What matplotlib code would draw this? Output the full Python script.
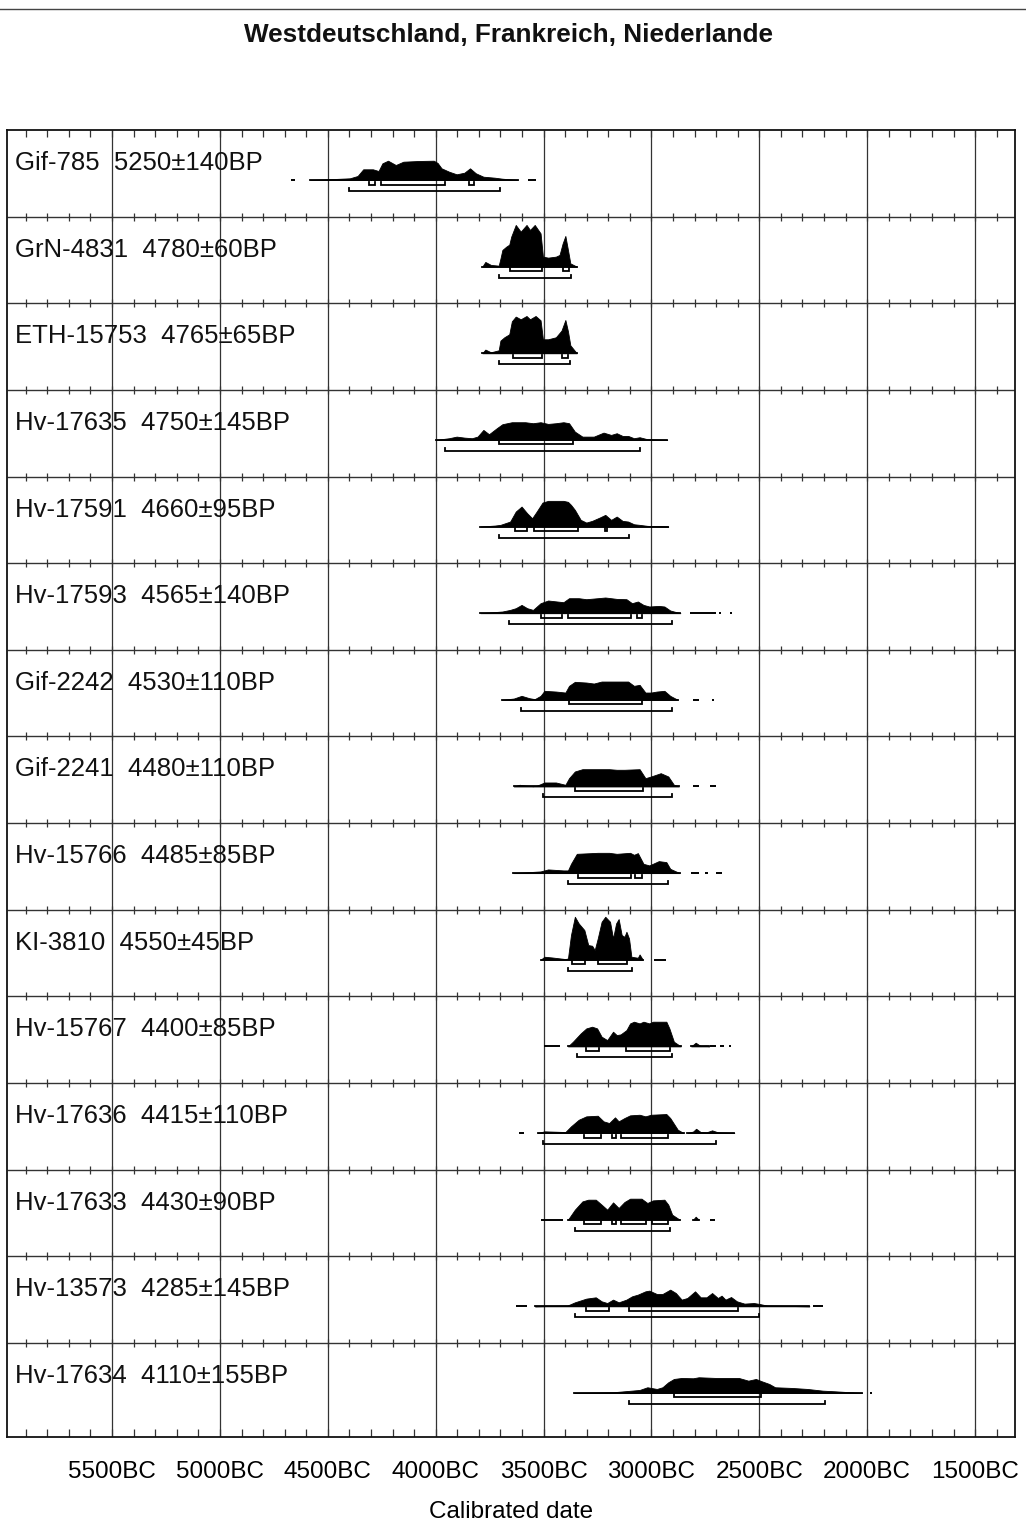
import matplotlib
matplotlib.use("Agg")
import matplotlib.pyplot as plt
import matplotlib.transforms as mtransforms

plt.rcParams['font.family'] = ['Liberation Sans', 'DejaVu Sans']

TITLE = "Westdeutschland, Frankreich, Niederlande"
XLABEL = "Calibrated date"
TICK_YEARS = [5500, 5000, 4500, 4000, 3500, 3000, 2500, 2000, 1500]
TICK_LABELS = ["5500BC", "5000BC", "4500BC", "4000BC", "3500BC",
               "3000BC", "2500BC", "2000BC", "1500BC"]

LABELS = [
    "Gif-785  5250±140BP", "GrN-4831  4780±60BP", "ETH-15753  4765±65BP",
    "Hv-17635  4750±145BP", "Hv-17591  4660±95BP", "Hv-17593  4565±140BP",
    "Gif-2242  4530±110BP", "Gif-2241  4480±110BP", "Hv-15766  4485±85BP",
    "KI-3810  4550±45BP", "Hv-15767  4400±85BP", "Hv-17636  4415±110BP",
    "Hv-17633  4430±90BP", "Hv-13573  4285±145BP", "Hv-17634  4110±155BP",
]

# ---- probability curves: years BC and relative heights ----
r1_years = [4583, 4468, 4398, 4362, 4336, 4291, 4265, 4247, 4221, 4185, 4150, 4080, 4009, 3991, 3973, 3938, 3903, 3867, 3841, 3814, 3779, 3726, 3691, 3620]
r1_h = [0, 1, 1.7, 4, 10.7, 10.7, 9, 16.7, 19.3, 15, 18.3, 19, 19.3, 17, 11.7, 8.3, 5.7, 7.3, 11.7, 6.7, 3.3, 2.3, 1.3, 0]

r2_years = [3784, 3770, 3744, 3708, 3700, 3691, 3673, 3659, 3650, 3629, 3606, 3579, 3563, 3541, 3514, 3503, 3479, 3443, 3426, 3412, 3399, 3387, 3376, 3346]
r2_h = [0, 4.7, 1.7, 1, 8, 16.7, 20, 22, 30, 41.7, 35, 41.7, 36.7, 41.7, 33.3, 10, 9, 10, 11.7, 23, 30.7, 16.7, 3.3, 0]

r3_years = [3784, 3770, 3744, 3708, 3700, 3682, 3659, 3647, 3629, 3606, 3579, 3563, 3537, 3514, 3503, 3479, 3443, 3417, 3399, 3387, 3376, 3346]
r3_h = [0, 3.7, 1, 3, 12.7, 16, 19, 32, 36.7, 34, 37.3, 34, 37.3, 33, 14, 14, 16, 22.7, 33.3, 22, 8, 0]

r4_years = [4000, 3938, 3903, 3867, 3832, 3806, 3779, 3753, 3717, 3691, 3647, 3585, 3549, 3514, 3479, 3443, 3408, 3382, 3355, 3320, 3267, 3222, 3187, 3161, 3134, 3108, 3081, 3055, 3019, 2927]
r4_h = [0, 1.7, 3.3, 2.3, 1.7, 3.3, 10, 5.7, 11.7, 15.7, 17.7, 17.7, 16.7, 17.7, 16, 16.7, 17.7, 16.7, 8.3, 3.3, 3.3, 7.3, 5, 6.7, 4, 4, 1.7, 2.7, 0.7, 0]

r5_years = [3793, 3726, 3700, 3655, 3629, 3602, 3576, 3553, 3532, 3505, 3479, 3408, 3387, 3373, 3355, 3328, 3302, 3275, 3240, 3214, 3187, 3161, 3134, 3108, 3081, 3055, 3019, 2922]
r5_h = [0, 1, 1.7, 5, 15, 20, 13.3, 8.3, 15, 24, 25.7, 25.7, 24.7, 21.7, 16.7, 6.7, 4, 5.7, 9, 11.7, 6.7, 10, 5.7, 5, 2.3, 1.7, 0.7, 0]

r6_years = [3793, 3691, 3655, 3629, 3602, 3576, 3549, 3514, 3479, 3408, 3382, 3337, 3302, 3249, 3214, 3161, 3116, 3090, 3063, 3037, 3010, 2966, 2940, 2913, 2866]
r6_h = [0, 1.7, 3.3, 5, 8.3, 5, 3.3, 10, 12.7, 11, 15, 15, 14, 15, 15.7, 14.3, 14, 10, 11.7, 8.3, 6.7, 7.3, 6.7, 2.7, 0]

r7_years = [3694, 3638, 3602, 3567, 3541, 3514, 3496, 3443, 3399, 3382, 3355, 3302, 3267, 3231, 3108, 3081, 3055, 3028, 3002, 2975, 2940, 2913, 2878]
r7_h = [0, 1.3, 4, 1.7, 0.7, 4, 9, 8.3, 7.3, 14, 18, 17.3, 16.3, 18.3, 18.3, 14, 15, 7.3, 7.3, 8.3, 9, 4, 0]

r8_years = [3638, 3611, 3576, 3549, 3532, 3496, 3443, 3399, 3382, 3355, 3320, 3196, 3161, 3125, 3055, 3028, 3002, 2957, 2922, 2896, 2873]
r8_h = [0, 1.7, 0.7, 0.3, 0.7, 4, 4, 1.7, 8.3, 15, 17.3, 17.3, 16.7, 16.7, 17.3, 8.3, 10, 13.3, 10, 1.7, 0]

r9_years = [3641, 3514, 3479, 3408, 3387, 3373, 3346, 3249, 3196, 3161, 3099, 3081, 3063, 3037, 3010, 2966, 2931, 2913, 2869]
r9_h = [0, 1.7, 3.7, 2.7, 2.7, 9.3, 19.3, 20.3, 20.3, 19.3, 20.3, 18.3, 20, 9.3, 7.7, 12, 11, 4.3, 0]

r10_years = [3514, 3496, 3461, 3399, 3387, 3373, 3355, 3337, 3311, 3293, 3275, 3263, 3249, 3231, 3214, 3192, 3178, 3164, 3152, 3138, 3125, 3116, 3104, 3093, 3063, 3055, 3040]
r10_h = [0, 3, 2.3, 0.7, 1.3, 24.7, 43, 36.3, 29.7, 14.7, 14, 9.7, 21.3, 38, 43, 38, 21.3, 36.3, 40.7, 24.7, 23, 28, 21.3, 3, 2, 5.3, 0]

r11_years = [3387, 3364, 3328, 3302, 3275, 3252, 3231, 3205, 3178, 3161, 3143, 3116, 3099, 3081, 3055, 3037, 3010, 2993, 2931, 2917, 2896, 2864]
r11_h = [0, 4.7, 13, 18, 19.7, 18, 9.7, 6.3, 14.7, 11.3, 12, 16.3, 23, 24.7, 23, 24.7, 23, 24.7, 24.7, 18, 4.7, 0]
r11b_years = [2816, 2795, 2772, 2745, 2733]
r11b_h = [0, 3.7, 0.3, 0.7, 0]

r12_years = [3528, 3496, 3399, 3373, 3337, 3302, 3249, 3222, 3196, 3169, 3152, 3125, 3099, 3055, 3028, 3002, 2931, 2913, 2878, 2851]
r12_h = [0, 1.7, 1, 6.7, 13.3, 16.7, 17.3, 11.7, 10, 15.7, 11.7, 15, 17.7, 18.3, 16.7, 18.3, 19, 15, 3.3, 0]
r12b_years = [2834, 2807, 2793, 2772, 2745, 2719, 2692, 2616]
r12b_h = [0, 1.5, 4.3, 1, 0.7, 2.7, 0.7, 0]

r13_years = [3387, 3355, 3320, 3293, 3258, 3231, 3205, 3178, 3152, 3125, 3099, 3046, 3019, 2993, 2940, 2922, 2904, 2869]
r13_h = [0, 10, 18.3, 20, 20, 15, 10, 17.3, 11.7, 17.7, 21, 21, 16.7, 19.3, 20, 15, 5, 0]
r13b_years = [2807, 2795, 2781]
r13b_h = [0, 3, 0]

r14_years = [3540, 3390, 3355, 3302, 3258, 3231, 3205, 3178, 3152, 3116, 3090, 3063, 3028, 3010, 2975, 2949, 2913, 2887, 2860, 2834, 2798, 2772, 2745, 2719, 2692, 2675, 2657, 2631, 2604, 2569, 2525, 2498, 2463, 2268]
r14_h = [0, 0.7, 4, 7.7, 9, 5, 3.3, 6.7, 4, 6.7, 10, 11.7, 15, 15.7, 12.3, 12.3, 16.7, 13.3, 6.7, 8.3, 15, 9, 9, 13.3, 8.3, 10.7, 6.7, 9.3, 5, 2.7, 3.3, 2.3, 0.7, 0]

r15_years = [3358, 3178, 3055, 3019, 2975, 2949, 2922, 2896, 2860, 2807, 2781, 2701, 2595, 2551, 2516, 2489, 2454, 2427, 2348, 2277, 2206, 2153, 2024]
r15_h = [0, 0.7, 3, 5.7, 4, 5.7, 10.7, 14, 15, 14.7, 15.7, 15, 15, 12.3, 14, 11.7, 9, 5.7, 5, 4, 2.3, 1.7, 0]

CURVES = [
    [(r1_years, r1_h)], [(r2_years, r2_h)], [(r3_years, r3_h)], [(r4_years, r4_h)],
    [(r5_years, r5_h)], [(r6_years, r6_h)], [(r7_years, r7_h)], [(r8_years, r8_h)],
    [(r9_years, r9_h)], [(r10_years, r10_h)], [(r11_years, r11_h), (r11b_years, r11b_h)],
    [(r12_years, r12_h), (r12b_years, r12b_h)], [(r13_years, r13_h), (r13b_years, r13b_h)],
    [(r14_years, r14_h)], [(r15_years, r15_h)],
]

# short low-probability dashes (year from, year to)
TAILS = [
    [(4670, 4650), (3572, 3535)], [], [], [], [],
    [(2822, 2701), (2686, 2677), (2636, 2627)],
    [(2807, 2781), (2719, 2710)],
    [(2807, 2781), (2728, 2701)],
    [(2816, 2781), (2754, 2737), (2701, 2675)],
    [(2988, 2934)],
    [(3500, 3422), (2728, 2701), (2684, 2666), (2640, 2631)],
    [(3616, 3590)],
    [(3510, 3411), (2728, 2706)],
    [(3629, 3576), (2251, 2206)],
    [(1986, 1977)],
]

# 68.2% ranges
SIGMA1 = [
    [(4309, 4283), (4253, 3956), (3844, 3823)],
    [(3655, 3509), (3408, 3381)],
    [(3643, 3505), (3413, 3387)],
    [(3705, 3364)],
    [(3634, 3576), (3546, 3341), (3214, 3205)],
    [(3514, 3413), (3387, 3093), (3067, 3042)],
    [(3382, 3044)],
    [(3355, 3037)],
    [(3342, 3093), (3076, 3044)],
    [(3367, 3306), (3246, 3115)],
    [(3302, 3244), (3116, 2913)],
    [(3314, 3235), (3185, 3166), (3143, 2922)],
    [(3311, 3235), (3185, 3166), (3143, 3023), (2998, 2922)],
    [(3302, 3199), (3104, 2599)],
    [(2896, 2490)],
]
# 95.4% ranges
SIGMA2 = [
    [(4401, 3700)], [(3705, 3373)], [(3705, 3376)], [(3956, 3055)], [(3705, 3104)],
    [(3659, 2904)], [(3606, 2904)], [(3503, 2904)], [(3385, 2922)], [(3385, 3090)],
    [(3344, 2904)], [(3503, 2701)], [(3355, 2913)], [(3355, 2500)], [(3104, 2197)],
]

# ---- layout (pixel-like units inside the axes) ----
W, H = 1026, 1521
ROW_H = 86.64
AX_H = 1307.0
BASE_OFF = 50.0
S1_OFF = 4.5
S2_OFF = 11.0
TICK_H = 3.0
X0, X1 = -5987, -1315

fig = plt.figure(figsize=(W / 100, H / 100), dpi=100)
ax = fig.add_axes([7 / W, 1 - 1437 / H, 1008 / W, 1307 / H])
ax.set_xlim(X0, X1)
ax.set_ylim(AX_H, 0)
for s in ax.spines.values():
    s.set_linewidth(1.3)
    s.set_color('#111111')

GRID_C = '#333333'
# vertical grid lines
ax.vlines([-y for y in TICK_YEARS], 0, AX_H, color=GRID_C, lw=0.9, zorder=1)
# horizontal separators
n = len(LABELS)
seps = [i * ROW_H for i in range(1, n)]
ax.hlines(seps, X0, X1, color=GRID_C, lw=1.0, zorder=1)
# minor crosses every 100 years
minor = list(range(5900, 1399, -100))
for s in seps:
    ax.vlines([-y for y in minor], s - 4, s + 4, color=GRID_C, lw=0.9, zorder=1)
ax.vlines([-y for y in minor], 0, 6.5, color=GRID_C, lw=0.9, zorder=1)
ax.vlines([-y for y in minor], AX_H - 8, AX_H, color=GRID_C, lw=0.9, zorder=1)

lab_tr = mtransforms.blended_transform_factory(ax.transAxes, ax.transData)
for i in range(n):
    top = i * ROW_H
    base = top + BASE_OFF
    ax.text(8 / 1008, top + 33, LABELS[i], transform=lab_tr, fontsize=18.5,
            ha='left', va='center', color='#111111')
    for yrs, hs in CURVES[i]:
        xs = [-y for y in yrs]
        ax.fill_between(xs, [base] * len(xs), [base - h for h in hs],
                        color='black', lw=0.6, zorder=3)
        ax.plot([xs[0], xs[-1]], [base, base], color='black', lw=1.3, zorder=3)
    for a, b in TAILS[i]:
        ax.plot([-a, -b], [base, base], color='black', lw=1.4, zorder=3,
                solid_capstyle='butt')
    for off, ranges in ((S1_OFF, SIGMA1[i]), (S2_OFF, SIGMA2[i])):
        yb = base + off
        for a, b in ranges:
            ax.plot([-a, -a, -b, -b], [yb - TICK_H, yb, yb, yb - TICK_H],
                    color='black', lw=1.3, zorder=3, solid_joinstyle='miter')

ax.set_yticks([])
ax.set_xticks([-y for y in TICK_YEARS])
ax.set_xticklabels(TICK_LABELS, fontsize=17.5)
ax.tick_params(axis='x', length=0, pad=17)
ax.set_xlabel(XLABEL, fontsize=17.5, labelpad=13)

fig.text(508 / W, 1 - 35 / H, TITLE, fontsize=18.8, fontweight='bold',
         ha='center', va='center', color='#111111')
fig.add_artist(plt.Line2D([0, 1], [1 - 9 / H, 1 - 9 / H], color='#444444', lw=1.0))

fig.savefig('out.png', dpi=100, facecolor='white')
